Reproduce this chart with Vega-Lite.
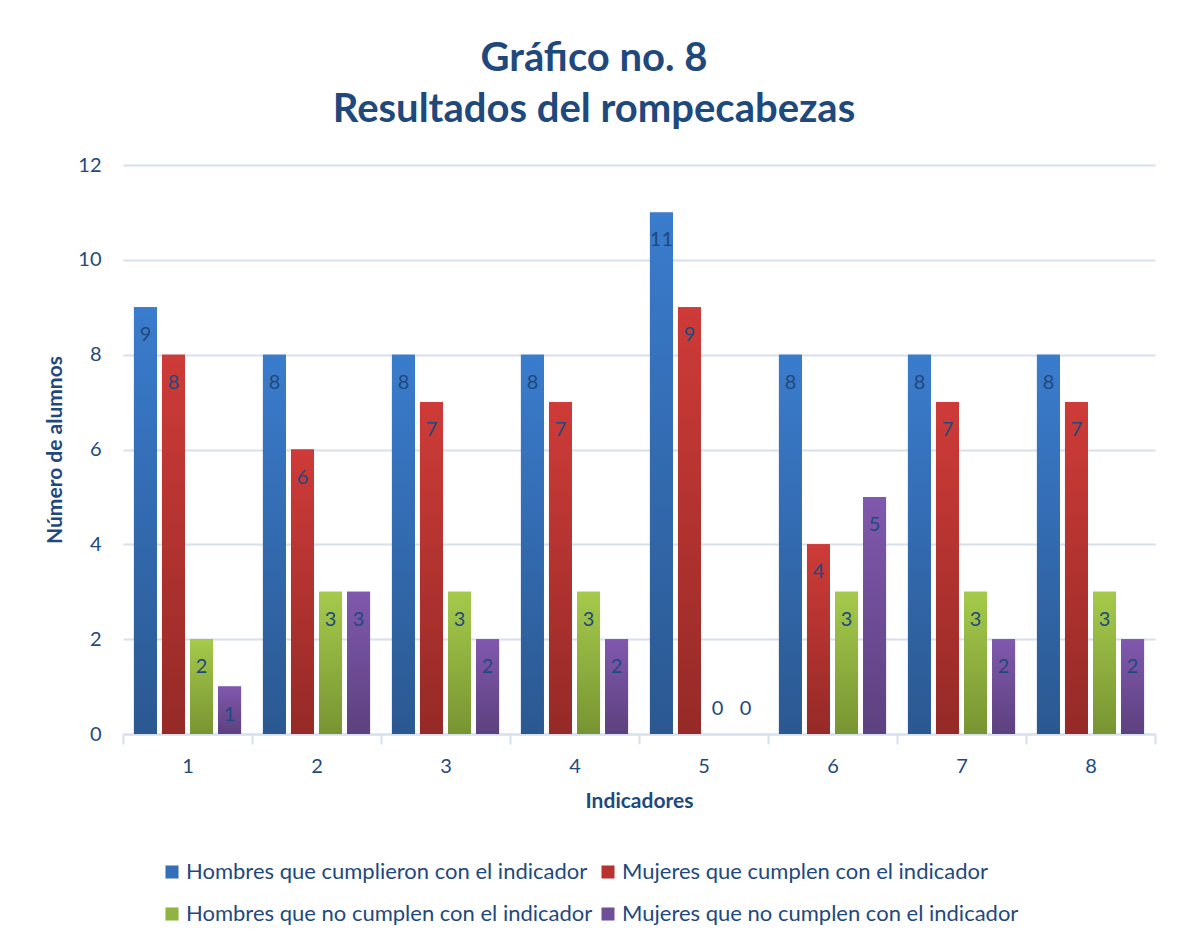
{
  "$schema": "https://vega.github.io/schema/vega-lite/v6.json",
  "width": 1032,
  "height": 569,
  "autosize": {"type": "none"},
  "padding": {"left": 123, "top": 165, "right": 23, "bottom": 213},
  "background": "white",
  "title": {
    "text": ["Gráfico no. 8", "Resultados del rompecabezas"],
    "font": "Lato",
    "fontSize": 40,
    "fontWeight": "bold",
    "color": "#1F497D",
    "lineHeight": 51,
    "anchor": "middle",
    "dx": -45,
    "offset": 25
  },
  "config": {
    "view": {"stroke": null},
    "font": "Lato"
  },
  "data": {
    "values": [
      {"indicador": "1", "serie": "Hombres que cumplieron con el indicador", "orden": 1, "valor": 9},
      {"indicador": "1", "serie": "Mujeres que cumplen con el indicador", "orden": 2, "valor": 8},
      {"indicador": "1", "serie": "Hombres que no cumplen con el indicador", "orden": 3, "valor": 2},
      {"indicador": "1", "serie": "Mujeres que no cumplen con el indicador", "orden": 4, "valor": 1},
      {"indicador": "2", "serie": "Hombres que cumplieron con el indicador", "orden": 1, "valor": 8},
      {"indicador": "2", "serie": "Mujeres que cumplen con el indicador", "orden": 2, "valor": 6},
      {"indicador": "2", "serie": "Hombres que no cumplen con el indicador", "orden": 3, "valor": 3},
      {"indicador": "2", "serie": "Mujeres que no cumplen con el indicador", "orden": 4, "valor": 3},
      {"indicador": "3", "serie": "Hombres que cumplieron con el indicador", "orden": 1, "valor": 8},
      {"indicador": "3", "serie": "Mujeres que cumplen con el indicador", "orden": 2, "valor": 7},
      {"indicador": "3", "serie": "Hombres que no cumplen con el indicador", "orden": 3, "valor": 3},
      {"indicador": "3", "serie": "Mujeres que no cumplen con el indicador", "orden": 4, "valor": 2},
      {"indicador": "4", "serie": "Hombres que cumplieron con el indicador", "orden": 1, "valor": 8},
      {"indicador": "4", "serie": "Mujeres que cumplen con el indicador", "orden": 2, "valor": 7},
      {"indicador": "4", "serie": "Hombres que no cumplen con el indicador", "orden": 3, "valor": 3},
      {"indicador": "4", "serie": "Mujeres que no cumplen con el indicador", "orden": 4, "valor": 2},
      {"indicador": "5", "serie": "Hombres que cumplieron con el indicador", "orden": 1, "valor": 11},
      {"indicador": "5", "serie": "Mujeres que cumplen con el indicador", "orden": 2, "valor": 9},
      {"indicador": "5", "serie": "Hombres que no cumplen con el indicador", "orden": 3, "valor": 0},
      {"indicador": "5", "serie": "Mujeres que no cumplen con el indicador", "orden": 4, "valor": 0},
      {"indicador": "6", "serie": "Hombres que cumplieron con el indicador", "orden": 1, "valor": 8},
      {"indicador": "6", "serie": "Mujeres que cumplen con el indicador", "orden": 2, "valor": 4},
      {"indicador": "6", "serie": "Hombres que no cumplen con el indicador", "orden": 3, "valor": 3},
      {"indicador": "6", "serie": "Mujeres que no cumplen con el indicador", "orden": 4, "valor": 5},
      {"indicador": "7", "serie": "Hombres que cumplieron con el indicador", "orden": 1, "valor": 8},
      {"indicador": "7", "serie": "Mujeres que cumplen con el indicador", "orden": 2, "valor": 7},
      {"indicador": "7", "serie": "Hombres que no cumplen con el indicador", "orden": 3, "valor": 3},
      {"indicador": "7", "serie": "Mujeres que no cumplen con el indicador", "orden": 4, "valor": 2},
      {"indicador": "8", "serie": "Hombres que cumplieron con el indicador", "orden": 1, "valor": 8},
      {"indicador": "8", "serie": "Mujeres que cumplen con el indicador", "orden": 2, "valor": 7},
      {"indicador": "8", "serie": "Hombres que no cumplen con el indicador", "orden": 3, "valor": 3},
      {"indicador": "8", "serie": "Mujeres que no cumplen con el indicador", "orden": 4, "valor": 2}
    ]
  },
  "encoding": {
    "x": {
      "field": "indicador",
      "type": "nominal",
      "scale": {"paddingInner": 0, "paddingOuter": 0},
      "axis": {
        "title": "Indicadores",
        "titleFont": "Lato",
        "titleFontSize": 21,
        "titleFontWeight": "bold",
        "titleColor": "#1F497D",
        "titlePadding": 14,
        "labelAngle": 0,
        "labelFont": "Lato",
        "labelFontSize": 20,
        "labelColor": "#1F497D",
        "labelPadding": 12,
        "domainColor": "#D6E0EF",
        "domainWidth": 2,
        "tickColor": "#D6E0EF",
        "tickWidth": 2,
        "tickSize": 10,
        "tickBand": "extent",
        "grid": false
      }
    },
    "xOffset": {
      "field": "orden",
      "type": "ordinal",
      "scale": {"paddingInner": 0.18, "paddingOuter": 0.39}
    },
    "y": {
      "field": "valor",
      "type": "quantitative",
      "scale": {"domain": [0, 12], "nice": false},
      "axis": {
        "title": "Número de alumnos",
        "titleFont": "Lato",
        "titleFontSize": 21,
        "titleFontWeight": "bold",
        "titleColor": "#1F497D",
        "titlePadding": 12,
        "values": [0, 2, 4, 6, 8, 10, 12],
        "labelFont": "Lato",
        "labelFontSize": 20,
        "labelColor": "#1F497D",
        "labelPadding": 22,
        "domain": false,
        "ticks": false,
        "gridColor": "#D6E0EF",
        "gridWidth": 2
      }
    }
  },
  "layer": [
    {
      "mark": {"type": "bar"},
      "encoding": {
        "color": {
          "field": "serie",
          "type": "nominal",
          "sort": ["Hombres que cumplieron con el indicador", "Mujeres que cumplen con el indicador", "Hombres que no cumplen con el indicador", "Mujeres que no cumplen con el indicador"],
          "scale": {
            "domain": ["Hombres que cumplieron con el indicador", "Mujeres que cumplen con el indicador", "Hombres que no cumplen con el indicador", "Mujeres que no cumplen con el indicador"],
            "range": ["#3470BA", "#B8332F", "#8FB441", "#6E4F98"]
          },
          "legend": {
            "title": null,
            "orient": "none",
            "legendX": 38,
            "legendY": 696,
            "direction": "horizontal",
            "columns": 2,
            "symbolType": "square",
            "symbolSize": 170,
            "symbolStrokeWidth": 0,
            "labelFont": "Lato",
            "labelFontSize": 22,
            "labelColor": "#1F497D",
            "labelOffset": 3,
            "labelLimit": 600,
            "columnPadding": 4,
            "rowPadding": 20
          }
        }
      }
    },
    {
      "transform": [{"filter": "datum.orden == 1"}],
      "mark": {"type": "bar", "color": {"gradient": "linear", "x1": 0, "y1": 0, "x2": 0, "y2": 1, "stops": [{"offset": 0, "color": "#3A7CCD"}, {"offset": 1, "color": "#2B5891"}]}}
    },
    {
      "transform": [{"filter": "datum.orden == 2"}],
      "mark": {"type": "bar", "color": {"gradient": "linear", "x1": 0, "y1": 0, "x2": 0, "y2": 1, "stops": [{"offset": 0, "color": "#CE3B38"}, {"offset": 1, "color": "#952A27"}]}}
    },
    {
      "transform": [{"filter": "datum.orden == 3"}],
      "mark": {"type": "bar", "color": {"gradient": "linear", "x1": 0, "y1": 0, "x2": 0, "y2": 1, "stops": [{"offset": 0, "color": "#A5CA4B"}, {"offset": 1, "color": "#789432"}]}}
    },
    {
      "transform": [{"filter": "datum.orden == 4"}],
      "mark": {"type": "bar", "color": {"gradient": "linear", "x1": 0, "y1": 0, "x2": 0, "y2": 1, "stops": [{"offset": 0, "color": "#8058AE"}, {"offset": 1, "color": "#5D417F"}]}}
    },
    {
      "transform": [{"filter": "datum.valor > 0"}],
      "mark": {"type": "text", "font": "Lato", "fontSize": 20, "color": "#1F497D", "baseline": "middle", "dy": 28},
      "encoding": {"text": {"field": "valor", "type": "quantitative"}}
    },
    {
      "transform": [{"filter": "datum.valor == 0"}],
      "mark": {"type": "text", "font": "Lato", "fontSize": 20, "color": "#1F497D", "baseline": "middle", "dy": -25},
      "encoding": {"text": {"field": "valor", "type": "quantitative"}}
    }
  ]
}
